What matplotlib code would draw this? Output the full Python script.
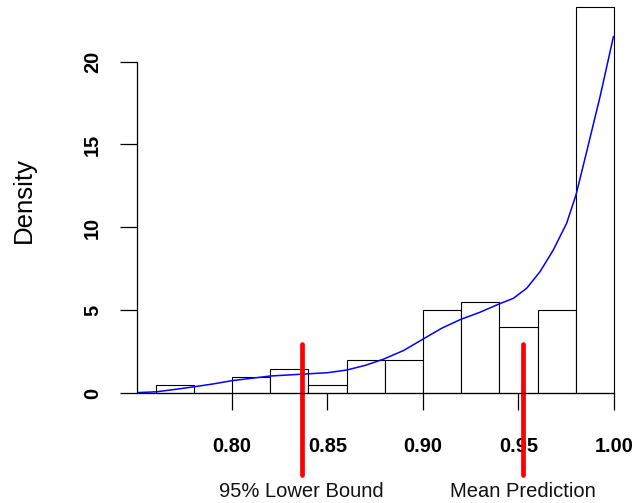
import matplotlib.pyplot as plt

plt.rcParams['font.family'] = ['Liberation Sans', 'DejaVu Sans']

# histogram (density scale), bins of width 0.02
bin_left = [0.76, 0.78, 0.80, 0.82, 0.84, 0.86, 0.88, 0.90, 0.92, 0.94, 0.96, 0.98]
density = [0.5, 0.0, 1.0, 1.5, 0.5, 2.0, 2.0, 5.0, 5.5, 4.0, 5.0, 23.3]
bin_width = 0.02

# kernel density curve
kde_x = [0.7503, 0.7605, 0.7706, 0.7806, 0.79, 0.80, 0.81, 0.82, 0.8365, 0.85,
         0.86, 0.87, 0.8792, 0.8897, 0.8998, 0.9098, 0.9199, 0.9298, 0.9400,
         0.9473, 0.9543, 0.9613, 0.9682, 0.9752, 0.9801, 0.9857, 0.9927, 0.9997]
kde_y = [0.05, 0.1, 0.25, 0.41, 0.57, 0.77, 0.91, 1.05, 1.16, 1.25,
         1.41, 1.7, 2.06, 2.58, 3.26, 3.93, 4.47, 4.89, 5.40,
         5.73, 6.34, 7.34, 8.64, 10.25, 11.96, 14.57, 17.88, 21.5]

# reference lines
markers = [0.8365, 0.9522]
marker_labels = ['95% Lower Bound', 'Mean Prediction']

xticks = [0.80, 0.85, 0.90, 0.95, 1.00]
yticks = [0, 5, 10, 15, 20]

fig = plt.figure(figsize=(6.35, 5.03), dpi=100)
ax = fig.add_axes([0.2161, 0.1871, 0.7797, 0.8292])

ax.bar(bin_left, density, width=bin_width, align='edge',
       facecolor='white', edgecolor='black', linewidth=0.8)
ax.plot(kde_x, kde_y, color='#0000ff', linewidth=1.1)

for xm, lab in zip(markers, marker_labels):
    ax.plot([xm, xm], [-4.9, 3.0], color='red', linewidth=3.4,
            solid_capstyle='round', clip_on=False)
    ax.text(xm, -5.9, lab, ha='center', va='center', fontsize=14.5,
            color='#111111', clip_on=False)

ax.set_xlim(0.7504, 1.0096)
ax.set_ylim(-0.93, 24.2)

for side in ['top', 'right']:
    ax.spines[side].set_visible(False)
ax.spines['left'].set_bounds(0, 20)
ax.spines['bottom'].set_position(('data', 0))
ax.spines['bottom'].set_bounds(0.7504, 1.0)
ax.spines['left'].set_linewidth(0.9)
ax.spines['bottom'].set_linewidth(0.9)

ax.set_xticks(xticks)
ax.set_xticklabels(['%.2f' % v for v in xticks], fontweight='bold', fontsize=14.4)
ax.set_yticks(yticks)
ax.set_yticklabels([str(v) for v in yticks], fontweight='bold', fontsize=14.4,
                   rotation=90, va='center')
ax.tick_params(axis='x', direction='out', length=12.2, width=0.9, pad=19)
ax.tick_params(axis='y', direction='out', length=12.2, width=0.9, pad=13)

ax.set_ylabel('Density', fontsize=18.5)
ax.yaxis.label.set_va('center')
ax.yaxis.set_label_coords(-0.228, 0.50)

fig.savefig('out.png', dpi=100)
